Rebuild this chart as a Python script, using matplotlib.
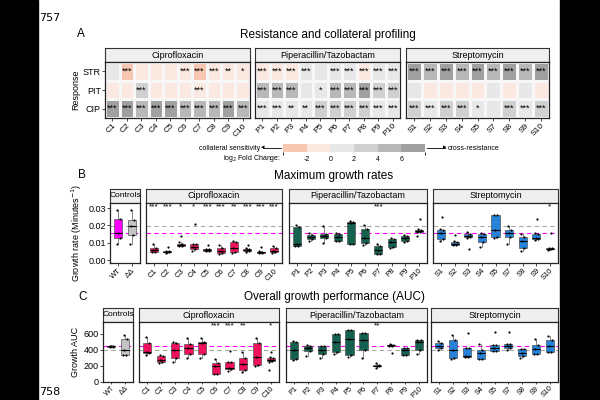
import matplotlib.pyplot as plt
from matplotlib.colors import ListedColormap, BoundaryNorm
from matplotlib.cm import ScalarMappable
from matplotlib.patches import Rectangle

plt.rcParams['font.family'] = ['Liberation Sans', 'DejaVu Sans']
plt.rcParams['axes.unicode_minus'] = False

# ---------------- panel A: log2 fold change heatmap (rows STR, PIT, CIP)
rows = ['STR', 'PIT', 'CIP']
cip_lines = ['C1', 'C2', 'C3', 'C4', 'C5', 'C6', 'C7', 'C8', 'C9', 'C10']
pip_lines = ['P1', 'P2', 'P3', 'P4', 'P5', 'P6', 'P7', 'P8', 'P9', 'P10']
str_lines = ['S1', 'S2', 'S3', 'S4', 'S5', 'S7', 'S8', 'S9', 'S10']

hm_cip = [[1, -3, -1, -1, -1, -1, -3, -1, -1, -1],
          [-1, -1, 3, -1, -1, -1, -1, -1, -1, -1],
          [7, 7, 5, 7, 7, 5, 5, 5, 7, 5]]
hm_pip = [[-1, -1, -1, 1, 1, 1, 1, -1, 1, 1],
          [5, 5, 5, 1, 1, 5, 5, 7, 3, 3],
          [1, 1, 1, 1, 3, 3, 3, 3, 1, 1]]
hm_str = [[7, 5, 7, 5, 7, 5, 7, 5, 7],
          [1, -1, -1, -1, -1, 1, -1, 1, -1],
          [3, 1, 3, 3, 1, 1, 3, 1, 3]]

sig_cip = [['', '***', '', '', '', '***', '***', '***', '**', '*'],
           ['', '', '***', '', '', '', '***', '', '', ''],
           ['***'] * 10]
sig_pip = [['***', '***', '***', '***', '', '***', '***', '***', '***', '***'],
           ['***', '***', '***', '', '*', '***', '***', '***', '***', '***'],
           ['***', '***', '**', '**', '***', '***', '***', '***', '***', '***']]
sig_str = [['***'] * 9,
           [''] * 9,
           ['***', '***', '***', '***', '*', '', '***', '***', '***']]

fc_bounds = [-4, -2, 0, 2, 4, 6, 8]
fc_ticks = [-2, 0, 2, 4, 6]
fc_colors = ['#f8c7b2', '#fbe9e1', '#e8e8e8', '#d0d0d0', '#b8b8b8', '#a0a0a0']

# ---------------- panel B: max growth rate (whislo, q1, med, q3, whishi)
ctrl_names = ['WT', 'ΔΔ']
gr_ctrl = [(0.0092, 0.0127, 0.0156, 0.0237, 0.029),
           (0.0092, 0.0144, 0.0198, 0.023, 0.029)]
gr_cip = [(0.0045, 0.0048, 0.0058, 0.0068, 0.0095),
          (0.0043, 0.0045, 0.0047, 0.0050, 0.0052),
          (0.0080, 0.0082, 0.0088, 0.0095, 0.0105),
          (0.0050, 0.0062, 0.0075, 0.0090, 0.0095),
          (0.0052, 0.0055, 0.0058, 0.0062, 0.0065),
          (0.0035, 0.0038, 0.0055, 0.0070, 0.0085),
          (0.0040, 0.0045, 0.0072, 0.0105, 0.0110),
          (0.0048, 0.0052, 0.0058, 0.0065, 0.0068),
          (0.0038, 0.0040, 0.0045, 0.0048, 0.0050),
          (0.0042, 0.0045, 0.0055, 0.0072, 0.0083)]
gr_cip_out = [[], [0.0075], [0.014], [0.021], [0.0085], [], [], [0.0085], [0.0075], []]
gr_pip = [(0.0080, 0.0082, 0.0092, 0.0190, 0.0205),
          (0.0112, 0.0123, 0.0135, 0.0146, 0.0155),
          (0.0097, 0.0127, 0.0138, 0.0152, 0.0199),
          (0.0108, 0.0111, 0.0135, 0.0152, 0.0155),
          (0.0090, 0.0092, 0.0215, 0.0222, 0.0225),
          (0.0088, 0.0097, 0.0125, 0.0180, 0.0205),
          (0.0033, 0.0035, 0.0060, 0.0082, 0.0090),
          (0.0068, 0.0074, 0.0105, 0.0121, 0.0125),
          (0.0105, 0.0110, 0.0128, 0.0140, 0.0145),
          (0.0160, 0.0162, 0.0170, 0.0175, 0.0178)]
gr_pip_out = [[], [], [], [], [], [], [], [], [], [0.0235, 0.014]]
gr_str = [(0.0110, 0.0123, 0.0155, 0.0175, 0.0178),
          (0.0085, 0.0088, 0.0095, 0.0105, 0.0108),
          (0.0128, 0.0131, 0.0140, 0.0152, 0.0160),
          (0.0075, 0.0105, 0.0132, 0.0152, 0.0155),
          (0.0128, 0.0131, 0.0175, 0.0260, 0.0262),
          (0.0095, 0.0133, 0.0155, 0.0171, 0.0195),
          (0.0055, 0.0070, 0.0110, 0.0133, 0.0150),
          (0.0118, 0.0121, 0.0130, 0.0152, 0.0155),
          (0.0060, 0.0062, 0.0065, 0.0070, 0.0072)]
gr_str_out = [[0.025], [0.0144], [0.0066], [], [], [], [], [0.0238], [0.0155]]
gr_cip_sig = ['***', '***', '*', '*', '***', '***', '**', '***', '***', '***']
gr_pip_sig = ['', '', '', '', '', '', '***', '', '', '']
gr_str_sig = ['', '', '', '', '', '', '', '', '*']

# ---------------- panel C: growth AUC
auc_ctrl = [(430, 436, 440, 445, 450),
            (330, 333, 395, 530, 580)]
auc_cip = [(330, 360, 370, 480, 560),
           (230, 240, 275, 320, 330),
           (250, 300, 400, 480, 490),
           (290, 350, 420, 470, 540),
           (290, 340, 480, 500, 540),
           (90, 100, 200, 230, 280),
           (130, 160, 170, 250, 250),
           (120, 150, 220, 300, 370),
           (200, 210, 310, 480, 550),
           (250, 255, 270, 300, 310)]
auc_cip_out = [[], [], [], [], [], [], [380], [], [], [370, 140]]
auc_pip = [(270, 280, 390, 500, 505),
           (320, 380, 420, 450, 460),
           (300, 340, 400, 440, 445),
           (350, 370, 500, 590, 600),
           (310, 333, 538, 641, 645),
           (290, 395, 526, 608, 610),
           (175, 190, 200, 210, 230),
           (440, 445, 452, 460, 465),
           (333, 335, 400, 415, 420),
           (345, 395, 500, 518, 520)]
auc_pip_out = [[], [], [], [], [], [], [], [360], [], []]
auc_str = [(390, 423, 450, 477, 510),
           (280, 292, 395, 518, 580),
           (310, 312, 320, 415, 420),
           (280, 285, 360, 395, 470),
           (382, 385, 420, 456, 460),
           (400, 415, 450, 464, 470),
           (290, 320, 360, 403, 410),
           (340, 341, 410, 456, 530),
           (366, 370, 440, 526, 570)]
auc_str_out = [[], [], [610], [], [620], [620], [], [], []]
auc_cip_sig = ['', '', '', '', '', '***', '***', '**', '', '*']
auc_pip_sig = ['', '', '', '', '', '', '**', '', '', '']
auc_str_sig = [''] * 9

ctrl_colors = ['#ff00ff', '#c4c4c4']
cip_color = '#f0105e'
pip_color = '#146150'
str_color = '#2683dc'

fig = plt.figure(figsize=(6, 4), dpi=100)


def px_ax(x0, y0, x1, y1):
    return fig.add_axes([x0 / 600, 1 - y1 / 400, (x1 - x0) / 600, (y1 - y0) / 400])


def strip(x0, y0, x1, y1, label, fs=6.5):
    a = px_ax(x0, y0, x1, y1)
    a.set_facecolor('#efefef')
    a.set_xticks([])
    a.set_yticks([])
    for s in a.spines.values():
        s.set_color('#333333')
        s.set_linewidth(0.8)
    a.text(0.5, 0.5, label, ha='center', va='center', fontsize=fs, transform=a.transAxes)


def frame(a):
    for s in a.spines.values():
        s.set_color('#222222')
        s.set_linewidth(0.9)
    a.tick_params(axis='both', length=2, width=0.5, labelsize=5.5, pad=1)


# black borders and page numbers
fig.patches.append(Rectangle((0, 0), 38 / 600, 1, transform=fig.transFigure, color='black'))
fig.patches.append(Rectangle((560 / 600, 0), 40 / 600, 1, transform=fig.transFigure, color='black'))
fig.text(39 / 600, 1 - 18 / 400, '757', fontsize=8, family='DejaVu Sans', va='center')
fig.text(39 / 600, 1 - 392 / 400, '758', fontsize=8, family='DejaVu Sans', va='center')

# ---------------- A
fig.text(77 / 600, 1 - 34 / 400, 'A', fontsize=8.5, va='center')
fig.text(328 / 600, 1 - 35 / 400, 'Resistance and collateral profiling', fontsize=8.5,
         ha='center', va='center')

cmap = ListedColormap(fc_colors)
norm = BoundaryNorm(fc_bounds, cmap.N)
heat = [(105, 250, cip_lines, hm_cip, sig_cip, 'Ciprofloxacin'),
        (255, 400, pip_lines, hm_pip, sig_pip, 'Piperacillin/Tazobactam'),
        (406, 549, str_lines, hm_str, sig_str, 'Streptomycin')]
for k, (x0, x1, names, vals, sig, title) in enumerate(heat):
    strip(x0, 48, x1, 62, title)
    a = px_ax(x0, 62, x1, 118)
    a.pcolormesh(vals, cmap=cmap, norm=norm, edgecolors='#f7f7f7', linewidth=0.8)
    a.set_xlim(0, len(names))
    a.set_ylim(len(rows), 0)
    for r in range(len(rows)):
        for c in range(len(names)):
            if sig[r][c]:
                a.text(c + 0.5, r + 0.5, sig[r][c], ha='center', va='center', fontsize=6.5)
    frame(a)
    a.tick_params(axis='x', labelsize=6)
    a.set_xticks([i + 0.5 for i in range(len(names))])
    a.set_xticklabels(names, rotation=45, ha='right', rotation_mode='anchor')
    if k == 0:
        a.set_yticks([i + 0.5 for i in range(len(rows))])
        a.set_yticklabels(rows, fontsize=6.5)
        a.set_ylabel('Response', fontsize=6.5, labelpad=2)
    else:
        a.set_yticks([])

cax = px_ax(283, 144, 425, 152)
cb = fig.colorbar(ScalarMappable(norm=norm, cmap=cmap), cax=cax, orientation='horizontal')
cb.outline.set_visible(False)
cb.set_ticks(fc_ticks)
cax.tick_params(length=0, labelsize=5, pad=3)
fig.text(260 / 600, 1 - 148 / 400, 'collateral sensitivity', fontsize=5, ha='right', va='center')
fig.add_artist(plt.Line2D([281 / 600, 263 / 600], [1 - 148 / 400] * 2, color='black', lw=0.6))
fig.text(263 / 600, 1 - 148 / 400, '◂', fontsize=5, ha='center', va='center')
fig.add_artist(plt.Line2D([427 / 600, 445 / 600], [1 - 148 / 400] * 2, color='black', lw=0.6))
fig.text(445 / 600, 1 - 148 / 400, '▸', fontsize=5, ha='center', va='center')
fig.text(448 / 600, 1 - 148 / 400, 'cross-resistance', fontsize=5, ha='left', va='center')
fig.text(281 / 600, 1 - 158 / 400, 'log$_2$ Fold Change:', fontsize=5, ha='right', va='center')


# ---------------- boxplot helper
def boxes(a, names, stats, outs, colors, sig, sig_y, ref_wt, ref_dd):
    n = len(names)
    a.axhline(ref_dd, color='#aaaaaa', lw=0.8, ls=(0, (4, 3)), zorder=0.5)
    a.axhline(ref_wt, color='#ff00ff', lw=0.8, ls=(0, (4, 3)), zorder=0.5)
    bx = [dict(whislo=s[0], q1=s[1], med=s[2], q3=s[3], whishi=s[4], fliers=[]) for s in stats]
    bp = a.bxp(bx, positions=range(1, n + 1), widths=0.6, patch_artist=True,
               showcaps=False, showfliers=False,
               boxprops=dict(edgecolor='#555555', linewidth=0.5),
               medianprops=dict(color='black', linewidth=0.8),
               whiskerprops=dict(color='#555555', linewidth=0.5))
    for i, p in enumerate(bp['boxes']):
        p.set_facecolor(colors[i] if isinstance(colors, list) else colors)
    jit = [-0.12, 0.1, -0.04, 0.13, -0.09, 0.05]
    for i, s in enumerate(stats):
        ys = list(s) + outs[i]
        xs = [i + 1 + jit[j % len(jit)] for j in range(len(ys))]
        a.scatter(xs, ys, s=2.5, color='black', zorder=3, linewidths=0)
    for i, t in enumerate(sig):
        if t:
            a.text(i + 1, sig_y, t, ha='center', va='center', fontsize=6)
    a.set_xlim(0.4, n + 0.6)
    frame(a)
    a.set_xticks(range(1, n + 1))
    a.set_xticklabels(names, rotation=45, ha='right', rotation_mode='anchor')


# ---------------- B
fig.text(78 / 600, 1 - 175 / 400, 'B', fontsize=8.5, va='center')
fig.text(334 / 600, 1 - 176 / 400, 'Maximum growth rates', fontsize=8.5, ha='center', va='center')
wt_gr = gr_ctrl[0][2]
dd_gr = gr_ctrl[1][2]
panels_b = [(110, 140, ctrl_names, gr_ctrl, [[], []], ctrl_colors, ['', ''], 'Controls'),
            (146, 282, cip_lines, gr_cip, gr_cip_out, cip_color, gr_cip_sig, 'Ciprofloxacin'),
            (289, 427, pip_lines, gr_pip, gr_pip_out, pip_color, gr_pip_sig, 'Piperacillin/Tazobactam'),
            (433, 558, str_lines, gr_str, gr_str_out, str_color, gr_str_sig, 'Streptomycin')]
for k, (x0, x1, names, st, outs, col, sig, title) in enumerate(panels_b):
    strip(x0, 189, x1, 203, title, fs=6 if k == 0 else 6.5)
    a = px_ax(x0, 203, x1, 263)
    a.set_ylim(-0.0017, 0.033)
    boxes(a, names, st, outs, col, sig, 0.0308, wt_gr, dd_gr)
    if k == 0:
        a.set_yticks([0.0, 0.01, 0.02, 0.03])
        a.set_yticklabels(['0.00', '0.01', '0.02', '0.03'], fontsize=6.5)
        a.set_ylabel('Growth rate (Minutes$^{-1}$)', fontsize=6.5, labelpad=3)
    else:
        a.set_yticks([])

# ---------------- C
fig.text(78 / 600, 1 - 297 / 400, 'C', fontsize=8.5, va='center')
fig.text(335 / 600, 1 - 297 / 400, 'Overall growth performance (AUC)', fontsize=8.5,
         ha='center', va='center')
wt_auc = auc_ctrl[0][2]
dd_auc = auc_ctrl[1][2]
panels_c = [(103, 133, ctrl_names, auc_ctrl, [[], []], ctrl_colors, ['', ''], 'Controls'),
            (139, 279, cip_lines, auc_cip, auc_cip_out, cip_color, auc_cip_sig, 'Ciprofloxacin'),
            (286, 427, pip_lines, auc_pip, auc_pip_out, pip_color, auc_pip_sig, 'Piperacillin/Tazobactam'),
            (431, 558, str_lines, auc_str, auc_str_out, str_color, auc_str_sig, 'Streptomycin')]
for k, (x0, x1, names, st, outs, col, sig, title) in enumerate(panels_c):
    strip(x0, 308, x1, 322, title, fs=6 if k == 0 else 6.5)
    a = px_ax(x0, 322, x1, 382)
    a.set_ylim(-5, 745)
    boxes(a, names, st, outs, col, sig, 700, wt_auc, dd_auc)
    a.tick_params(axis='x', pad=0.5, length=1.5, labelsize=5.2)
    if k == 0:
        a.set_yticks([0, 200, 400, 600])
        a.tick_params(axis='y', labelsize=6.5)
        a.set_ylabel('Growth AUC', fontsize=6.5, labelpad=3)
    else:
        a.set_yticks([])

fig.savefig('out.png', dpi=100)
